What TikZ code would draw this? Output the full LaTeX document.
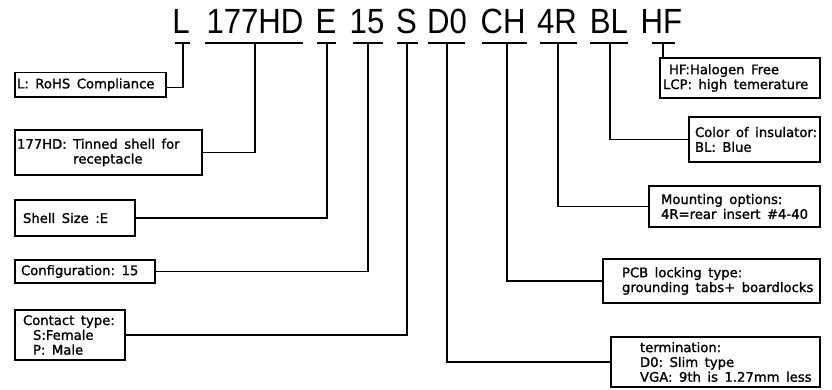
\documentclass[tikz,border=0pt]{standalone}
\usepackage{fontspec}
\newfontfamily\titlefont[FakeStretch=0.89]{Liberation Sans}
\newfontfamily\boxfont[FakeBold=1.3]{DejaVu Sans}
\newcommand\bline[2]{\hspace*{#1pt}\mbox{\spaceskip=6.5pt plus 1pt minus 1pt\relax #2}}
\begin{document}
\begin{tikzpicture}[x=1pt,y=-1pt,
  tok/.style={anchor=base, inner sep=0pt, font=\titlefont\fontsize{35}{40}\selectfont},
  uline/.style={line width=1.5pt},
  conn/.style={line width=1.1pt},
  infobox/.style={draw, line width=1.3pt, inner xsep=2pt, inner ysep=0pt, align=left,
    font={\boxfont\fontsize{13.2}{14.8}\selectfont}},
]
\useasboundingbox (0,0) rectangle (832,390);

% title tokens
\node[tok] (tL)  at (181,33.5) {L};
\node[tok] (tHD) at (255,33.5) {177HD};
\node[tok] (tE)  at (326,33.5) {E};
\node[tok] (t15) at (367,33.5) {15};
\node[tok] (tS)  at (406.5,33.5) {S};
\node[tok] (tD0) at (447,33.5) {D0};
\node[tok] (tCH) at (503,33.5) {CH};
\node[tok] (t4R) at (557,33.5) {4R};
\node[tok] (tBL) at (609,33.5) {BL};
\node[tok] (tHF) at (661.5,33.5) {HF};

% underlines
\draw[uline] (175,43) -- (190,43);
\draw[uline] (205,43) -- (303,43);
\draw[uline] (317,43) -- (336,43);
\draw[uline] (353,43) -- (383,43);
\draw[uline] (397,43) -- (418,43);
\draw[uline] (428,43) -- (465,43);
\draw[uline] (482,43) -- (527,43);
\draw[uline] (540,43) -- (577,43);
\draw[uline] (590,43) -- (628,43);
\draw[uline] (652,43) -- (675,43);

\coordinate (cL)  at (183,43);
\coordinate (cHD) at (255,43);
\coordinate (cE)  at (327,43);
\coordinate (c15) at (368,43);
\coordinate (cS)  at (407,43);
\coordinate (cD0) at (447,43);
\coordinate (cCH) at (507,43);
\coordinate (c4R) at (558,43);
\coordinate (cBL) at (610,43);
\coordinate (cHF) at (663,43);

% boxes
\node[infobox, minimum width=151pt, minimum height=24.5pt, text width=147pt] (Lbox) at (90.5,84.75)
  {\bline{0}{L: RoHS Compliance}};
\node[infobox, minimum width=187pt, minimum height=45pt, text width=183pt] (HDbox) at (108.5,152.5)
  {\bline{0}{177HD: Tinned shell for}\\\bline{0}{\hphantom{177HD:\hspace{6.5pt}}receptacle}};
\node[infobox, minimum width=120pt, minimum height=36pt, text width=116pt] (Shellbox) at (75,218)
  {\bline{6}{Shell Size :E}};
\node[infobox, minimum width=140pt, minimum height=23pt, text width=136pt] (Cfgbox) at (85,271.5)
  {\bline{4}{Configuration: 15}};
\node[infobox, minimum width=110pt, minimum height=50pt, text width=106pt] (Ctbox) at (70,335)
  {\bline{6}{Contact type:}\\\bline{16}{S:Female}\\\bline{16}{P: Male}};
\node[infobox, minimum width=209pt, minimum height=50pt, text width=205pt] (Termbox) at (715.5,362)
  {\bline{27}{termination:}\\\bline{27}{D0: Slim type}\\\bline{27}{VGA: 9th is 1.27mm less}};
\node[infobox, minimum width=217pt, minimum height=44pt, text width=213pt] (PCBbox) at (711.5,281)
  {\bline{17}{PCB locking type:}\\\bline{17}{grounding tabs+ boardlocks}};
\node[infobox, minimum width=171pt, minimum height=41pt, text width=167pt] (Mntbox) at (734.5,206.5)
  {\bline{10}{Mounting options:}\\\bline{10}{4R=rear insert \#4-40}};
\node[infobox, minimum width=131pt, minimum height=45pt, text width=127pt] (Colbox) at (754.5,139.5)
  {\bline{4}{Color of insulator:}\\\bline{4}{BL: Blue}};
\node[infobox, minimum width=160pt, minimum height=40pt, text width=156pt] (HFbox) at (740,78)
  {\bline{7}{HF:Halogen Free}\\\bline{1}{LCP: high temerature}};

% connectors
\draw[conn] (cL)  |- ([yshift=-3pt]Lbox.east);
\draw[conn] (cHD) |- (HDbox.east);
\draw[conn] (cE)  |- (Shellbox.east);
\draw[conn] (c15) |- (Cfgbox.east);
\draw[conn] (cS)  |- (Ctbox.east);
\draw[conn] (cD0) |- (Termbox.west);
\draw[conn] (cCH) |- (PCBbox.west);
\draw[conn] (c4R) |- (Mntbox.west);
\draw[conn] (cBL) |- (Colbox.west);
\draw[conn] (cHF) -- (cHF |- HFbox.north);
\end{tikzpicture}
\end{document}
